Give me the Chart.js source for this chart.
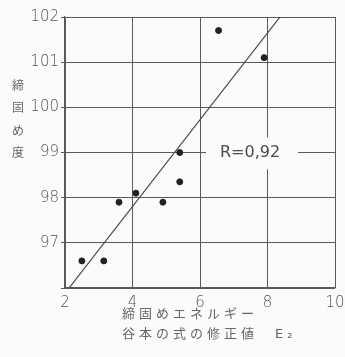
<!DOCTYPE html>
<html>
<head>
<meta charset="utf-8">
<script src="https://cdn.jsdelivr.net/npm/chart.js@4"></script>
<style>
  html, body { margin: 0; padding: 0; background: #fbfbf9; }
  #wrap { width: 345px; height: 357px; }
</style>
</head>
<body>
<div id="wrap"><canvas id="myChart" width="345" height="357"></canvas></div>
<script>
// 測定点 (E: 修正値, 締固め度)
const energia = [2.5, 3.15, 3.6, 4.1, 4.9, 5.4, 5.4, 6.55, 7.9];
const grado   = [96.6, 96.6, 97.9, 98.1, 97.9, 98.35, 99.0, 101.7, 101.1];

// 回帰直線の両端
const lineaX = [2.12, 8.37];
const lineaY = [96, 102];

const xTicks = [2, 4, 6, 8, 10];
const yTicks = [97, 98, 99, 100, 101, 102];

const tituloY = ["締", "固", "め", "度"];
const tituloX = ["締固めエネルギー", "谷本の式の修正値　E₂"];
const etiquetaR = "R=0,92";

const gris = "#5a5a5a";

/* textos extra: título vertical, título inferior y R */
const textosPlugin = {
  id: "textos",
  afterDatasetsDraw(chart) {
    const c = chart.ctx;
    const { x, y } = chart.scales;
    c.save();
    // etiqueta R con fondo sobre la grilla
    const rx = x.getPixelForValue(7.6);
    const ry = y.getPixelForValue(99);
    c.fillStyle = "#fbfbf9";
    c.fillRect(rx - 48, ry - 15, 92, 32);
    c.fillStyle = "#4a4a4a";
    c.font = "16px 'DejaVu Sans'";
    c.textAlign = "center";
    c.textBaseline = "middle";
    c.fillText(etiquetaR, rx - 4, ry);

    // título eje Y vertical
    c.font = "12px 'Noto Sans CJK JP'";
    c.fillStyle = "#666";
    tituloY.forEach((ch, i) => c.fillText(ch, 18, 85 + i * 22.5));

    // título eje X en dos líneas
    c.textAlign = "left";
    c.textBaseline = "alphabetic";
    c.font = "13px 'DejaVu Sans', 'Noto Sans CJK JP'";
    c.letterSpacing = "4px";
    c.fillText(tituloX[0], 122, 318);
    c.fillText(tituloX[1], 122, 338);
    c.restore();
  }
};

new Chart(document.querySelector("#myChart"), {
  type: "scatter",
  data: {
    datasets: [
      {
        label: "datos",
        data: energia.map((v, i) => ({ x: v, y: grado[i] })),
        backgroundColor: "#222",
        borderColor: "#222",
        pointRadius: 3,
        pointHoverRadius: 3
      },
      {
        type: "line",
        label: "regresion",
        data: lineaX.map((v, i) => ({ x: v, y: lineaY[i] })),
        borderColor: "#444",
        borderWidth: 1.2,
        pointRadius: 0,
        fill: false
      }
    ]
  },
  options: {
    responsive: false,
    animation: false,
    layout: { padding: { top: 17, right: 10, left: 0, bottom: 0 } },
    plugins: { legend: { display: false }, tooltip: { enabled: false } },
    scales: {
      x: {
        type: "linear",
        min: 2, max: 10,
        afterBuildTicks: (s) => { s.ticks = xTicks.map(v => ({ value: v })); },
        afterFit: (s) => { s.height = 69; s.paddingRight = 0; s.paddingLeft = 0; },
        grid: { color: gris, lineWidth: 1, drawTicks: false },
        border: { color: gris, width: 1.2 },
        ticks: { color: "#555", font: { size: 15, family: "DejaVu Sans", weight: "200" }, padding: 6 }
      },
      y: {
        type: "linear",
        min: 96, max: 102,
        afterBuildTicks: (s) => { s.ticks = [96].concat(yTicks).map(v => ({ value: v })); },
        afterFit: (s) => { s.width = 65; },
        grid: { color: gris, lineWidth: 1, tickLength: 4 },
        border: { color: gris, width: 1.2 },
        ticks: {
          color: "#555",
          font: { size: 15, family: "DejaVu Sans", weight: "200" },
          padding: 2,
          callback: (v) => yTicks.includes(v) ? String(v) : ""
        }
      }
    }
  },
  plugins: [textosPlugin]
});
</script>
</body>
</html>
